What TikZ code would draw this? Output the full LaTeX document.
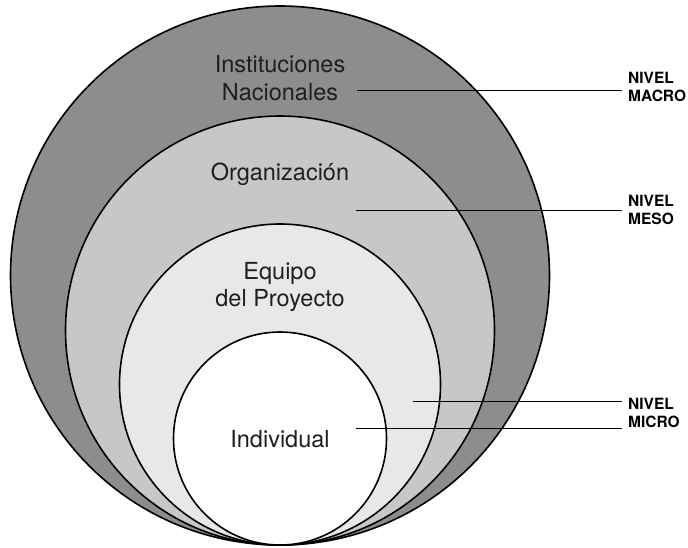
\documentclass[tikz,border=0pt]{standalone}
\usepackage{fontspec}
\setmainfont{TeX Gyre Heros}
\usepackage{tikz}
\usetikzlibrary{positioning}
\definecolor{macrogray}{RGB}{140,141,140}
\definecolor{mesogray}{RGB}{198,199,198}
\definecolor{equipogray}{RGB}{231,232,231}
\tikzset{
    ring/.style={draw=black, line width=1.6pt},
    tier/.style={font=\fontsize{23.5}{27.5}\selectfont, text=black!88, align=center, inner sep=0pt},
    nivel/.style={font=\bfseries\fontsize{15.5}{18}\selectfont, align=left, anchor=west,
        inner xsep=6pt, inner ysep=0pt},
    leader/.style={draw=black, line width=1pt},
}

\begin{document}
\begin{tikzpicture}[x=1pt, y=-1pt]
	\useasboundingbox (0,0) rectangle (688,547);
	% nested levels, all touching at the bottom
	\filldraw[ring, fill=macrogray] (280,275.5) circle[radius=269.5pt];
	\filldraw[ring, fill=mesogray] (280,330.5) circle[radius=214.5pt];
	\filldraw[ring, fill=equipogray] (280,384.5) circle[radius=160.5pt];
	\filldraw[ring, fill=white] (280,438.5) circle[radius=106.5pt];
	\node[tier] (inst) at (280,78) {Instituciones\\Nacionales};
	\node[tier] (org) at (280,174) {Organización};
	\node[tier] (equipo) at (280,287) {Equipo\\del Proyecto};
	\node[tier] (indiv) at (280,439) {Individual};
	% level labels on the right
	\node[nivel] (macro) at (622,87.3) {NIVEL\\MACRO};
	\node[nivel] (meso) at (622,209.7) {NIVEL\\MESO};
	\node[nivel] (micro) at (622,412.6) {NIVEL\\MICRO};
	\coordinate (macro-a) at (357,90);
	\coordinate (meso-a) at (356,210);
	\coordinate (micro-a) at (413,401);
	\coordinate (micro-b) at (356,428);
	\draw[leader] (macro-a) -- (macro-a -| macro.west);
	\draw[leader] (meso-a) -- (meso-a -| meso.west);
	\draw[leader] (micro-a) -- (micro-a -| micro.west);
	\draw[leader] (micro-b) -- (micro-b -| micro.west);
\end{tikzpicture}
\end{document}
